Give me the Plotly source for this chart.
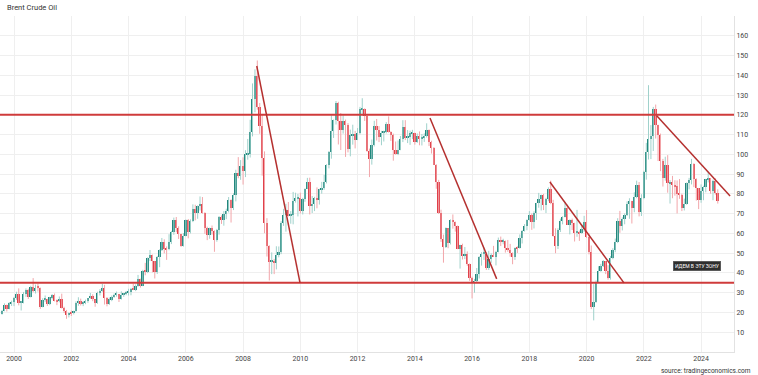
import plotly.graph_objects as go
import pandas as pd

title_text = "Brent Crude Oil"
source_text = "source: tradingeconomics.com"
note_text = "ИДЕМ В ЭТУ ЗОНУ"
first_month = "1999-08-01"

# Monthly OHLC, Aug 1999 .. Aug 2024 (one line per year)
open_ = [
    19.3, 20.9, 23.6, 21.9, 24.6,
    25.5, 27.1, 29.6, 24.9, 25.0, 29.4, 31.6, 27.9, 32.7, 30.8, 32.6, 32.4,
    23.0, 26.5, 26.8, 24.2, 27.6, 28.6, 26.0, 25.6, 26.8, 22.5, 20.5, 18.7,
    19.8, 19.5, 20.6, 25.0, 25.8, 24.5, 25.2, 25.8, 27.2, 28.4, 26.6, 24.6,
    29.9, 31.1, 32.6, 27.2, 24.2, 26.7, 27.6, 29.0, 29.2, 26.7, 29.0, 29.5,
    30.1, 30.3, 32.0, 31.6, 33.6, 37.0, 33.5, 41.2, 40.5, 47.6, 49.0, 45.9,
    40.5, 48.2, 51.8, 55.6, 52.0, 51.9, 55.6, 60.6, 66.9, 62.5, 59.5, 53.8,
    58.9, 66.7, 60.8, 66.4, 72.4, 70.2, 73.9, 75.0, 70.3, 62.5, 59.4, 62.6,
    61.0, 56.6, 61.8, 68.1, 66.7, 70.0, 71.4, 77.1, 72.7, 79.2, 90.8, 88.9,
    93.9, 91.8, 100.1, 100.3, 111.4, 127.8, 139.8, 124.1, 114.1, 98.2, 65.3, 53.5,
    45.6, 45.9, 44.8, 49.2, 50.8, 65.4, 69.3, 72.0, 69.0, 69.1, 76.4, 77.9,
    77.9, 71.2, 77.6, 82.7, 86.2, 74.0, 75.0, 78.0, 76.9, 82.3, 83.2, 85.9,
    94.8, 101.0, 111.8, 117.4, 125.9, 116.7, 112.5, 116.7, 114.9, 102.8, 109.6, 110.5,
    107.4, 111.0, 122.7, 122.9, 119.5, 101.9, 97.8, 104.9, 114.6, 112.4, 108.7, 110.9,
    111.1, 115.6, 111.4, 110.0, 102.4, 100.4, 102.2, 107.7, 114.0, 108.4, 108.8, 110.8,
    110.8, 106.4, 109.1, 107.8, 108.1, 109.4, 112.4, 106.0, 103.2, 94.7, 85.9, 70.2,
    57.3, 53.0, 62.6, 55.1, 66.8, 65.6, 63.6, 52.2, 54.2, 48.4, 49.6, 44.6,
    37.3, 34.7, 36.0, 39.6, 48.1, 49.7, 49.7, 42.5, 47.0, 49.1, 48.3, 50.5,
    56.8, 55.7, 56.0, 52.8, 51.7, 50.3, 47.9, 52.7, 52.4, 57.5, 61.4, 63.6,
    66.9, 69.1, 65.8, 70.3, 75.2, 77.6, 79.4, 74.3, 77.4, 82.7, 75.5, 58.7,
    53.8, 61.9, 66.3, 68.4, 72.8, 64.5, 66.6, 65.2, 60.4, 60.8, 60.2, 62.4,
    66.0, 58.2, 50.5, 22.7, 25.3, 35.3, 41.2, 43.3, 45.8, 40.9, 37.5, 47.6,
    51.8, 55.9, 66.1, 63.5, 67.3, 69.3, 75.1, 76.3, 73.0, 78.5, 84.4, 70.6,
    77.8, 91.2, 101.0, 107.9, 109.3, 122.8, 114.8, 110.0, 96.5, 88.0, 94.8, 85.4,
    85.9, 84.5, 83.9, 79.8, 79.5, 72.7, 74.9, 85.6, 86.9, 95.3, 87.4, 82.8,
    77.0, 81.7, 83.6, 87.5, 87.9, 81.6, 86.4, 80.7,
]
high = [
    21.3, 24.6, 24.0, 25.3, 26.0,
    27.9, 30.5, 32.2, 25.8, 30.4, 32.2, 32.0, 33.5, 37.4, 34.1, 34.6, 32.6,
    27.2, 28.6, 26.9, 27.9, 29.3, 29.6, 26.6, 28.1, 29.5, 22.9, 21.3, 20.0,
    21.0, 20.9, 25.6, 27.7, 27.0, 25.8, 26.5, 27.3, 29.9, 29.2, 26.6, 30.5,
    31.8, 34.4, 34.0, 27.8, 27.6, 28.6, 29.6, 30.6, 29.4, 30.7, 29.9, 30.9,
    32.0, 32.4, 34.4, 34.2, 39.0, 37.1, 41.6, 45.1, 47.9, 51.6, 49.3, 46.0,
    48.6, 52.0, 57.7, 57.0, 53.4, 59.6, 61.3, 68.0, 68.3, 63.6, 59.8, 60.2,
    67.1, 67.3, 67.1, 74.7, 74.5, 74.2, 78.7, 78.4, 70.7, 63.4, 62.9, 64.0,
    61.6, 62.3, 68.8, 69.1, 71.3, 72.5, 78.4, 77.2, 80.3, 92.2, 98.6, 97.1,
    98.5, 102.1, 107.8, 117.5, 135.9, 143.0, 147.5, 126.0, 120.0, 101.5, 67.7, 54.0,
    50.4, 47.1, 53.5, 53.4, 66.2, 72.4, 75.0, 75.9, 71.3, 81.0, 80.6, 80.0,
    80.6, 78.0, 82.8, 88.1, 88.2, 78.9, 78.5, 83.3, 82.6, 86.1, 89.6, 95.0,
    101.7, 119.8, 117.6, 127.0, 126.6, 120.9, 119.7, 117.6, 115.8, 112.5, 115.0, 111.9,
    113.3, 124.0, 128.4, 123.3, 119.9, 102.9, 107.5, 117.0, 117.9, 114.3, 111.9, 112.0,
    116.3, 119.2, 111.7, 110.5, 106.5, 107.0, 109.3, 117.3, 117.3, 112.3, 112.0, 112.4,
    111.0, 110.6, 111.6, 110.3, 110.6, 115.7, 112.6, 106.9, 103.7, 95.0, 87.1, 72.0,
    59.4, 63.0, 62.7, 67.1, 69.6, 66.0, 64.0, 54.3, 54.8, 53.1, 50.9, 44.8,
    38.1, 37.0, 42.5, 48.5, 50.5, 52.9, 50.5, 51.2, 49.9, 53.7, 51.2, 57.9,
    58.4, 57.3, 56.4, 56.7, 54.7, 50.4, 52.9, 53.5, 59.5, 61.7, 64.7, 67.1,
    71.3, 70.1, 71.2, 75.5, 80.5, 79.6, 80.0, 78.0, 83.3, 86.7, 77.0, 62.6,
    62.6, 67.5, 68.7, 75.6, 74.5, 67.1, 67.5, 65.4, 71.9, 61.4, 64.4, 68.9,
    71.8, 60.0, 53.9, 34.3, 36.2, 43.4, 44.6, 46.5, 46.0, 43.9, 48.6, 52.5,
    57.4, 67.7, 71.4, 68.1, 70.1, 76.2, 77.8, 76.5, 80.8, 86.7, 86.0, 79.8,
    91.7, 105.8, 135.0, 114.8, 124.0, 125.2, 115.0, 110.5, 97.7, 98.8, 99.6, 87.0,
    89.1, 86.9, 86.8, 87.5, 80.1, 77.6, 85.8, 88.1, 97.7, 95.5, 87.9, 83.0,
    84.8, 84.1, 87.6, 91.0, 88.0, 87.2, 87.9, 82.3,
]
low = [
    18.9, 20.6, 20.5, 21.6, 23.3,
    23.2, 26.4, 23.6, 21.0, 24.6, 27.9, 26.8, 27.6, 30.2, 29.6, 30.6, 21.8,
    22.6, 25.4, 23.3, 23.7, 26.6, 25.6, 23.7, 25.1, 22.0, 19.7, 16.8, 17.5,
    18.2, 19.0, 20.4, 23.4, 23.5, 23.2, 24.2, 24.9, 26.9, 25.7, 22.9, 24.4,
    28.6, 30.5, 24.0, 23.1, 23.8, 25.7, 27.4, 28.0, 25.3, 26.5, 27.9, 28.7,
    28.6, 28.7, 31.3, 30.8, 33.0, 32.6, 33.3, 38.8, 39.9, 46.0, 40.3, 37.2,
    39.5, 42.9, 51.1, 49.9, 46.6, 51.5, 54.6, 59.3, 60.6, 57.2, 53.2, 53.3,
    58.5, 57.5, 60.0, 65.7, 66.6, 67.4, 71.6, 70.0, 59.8, 56.6, 57.3, 59.4,
    50.7, 55.8, 59.4, 64.8, 63.9, 67.2, 70.6, 65.5, 71.8, 76.2, 87.9, 87.1,
    84.7, 88.5, 97.3, 98.4, 109.1, 121.3, 122.6, 110.4, 89.2, 60.1, 48.3, 36.2,
    39.4, 39.4, 41.8, 47.9, 49.5, 63.8, 60.9, 68.6, 64.9, 64.6, 75.6, 68.6,
    70.1, 69.6, 76.0, 82.5, 69.6, 70.3, 71.3, 72.7, 74.6, 80.1, 82.1, 85.3,
    92.9, 97.8, 108.3, 115.1, 105.0, 102.2, 110.5, 98.7, 101.0, 99.0, 104.9, 103.0,
    107.2, 110.1, 119.6, 116.9, 101.3, 88.5, 94.8, 104.0, 107.0, 106.2, 104.6, 106.5,
    110.6, 111.0, 106.8, 96.8, 99.8, 99.6, 102.1, 106.2, 107.2, 105.7, 104.8, 107.7,
    104.9, 105.8, 104.6, 104.5, 106.3, 108.5, 104.2, 100.4, 94.6, 82.6, 69.8, 55.7,
    45.2, 52.6, 52.5, 54.4, 62.4, 60.9, 52.0, 42.2, 46.8, 47.0, 43.6, 36.0,
    27.1, 30.0, 35.4, 37.2, 43.7, 46.6, 41.5, 41.5, 45.1, 48.1, 43.8, 50.4,
    53.6, 54.5, 50.3, 50.7, 48.2, 44.4, 46.6, 50.1, 52.3, 54.9, 60.9, 61.6,
    66.5, 61.8, 62.5, 66.8, 73.0, 71.6, 71.8, 70.3, 76.3, 74.8, 58.4, 50.0,
    52.1, 60.7, 64.6, 68.1, 64.3, 59.5, 61.7, 55.9, 58.3, 56.2, 59.8, 60.7,
    57.7, 49.4, 21.7, 16.0, 24.9, 35.0, 40.6, 43.0, 39.4, 36.6, 36.6, 46.9,
    50.5, 55.1, 60.3, 61.5, 64.6, 68.8, 67.4, 65.0, 70.7, 77.8, 68.6, 68.8,
    77.3, 87.2, 97.4, 97.6, 101.7, 108.0, 96.6, 91.5, 83.7, 86.7, 80.6, 75.1,
    77.8, 79.1, 70.1, 77.5, 71.3, 71.6, 74.5, 82.3, 84.8, 83.4, 76.6, 72.3,
    75.5, 76.8, 80.8, 85.8, 80.1, 76.8, 79.6, 75.1,
]
close = [
    20.9, 23.6, 21.9, 24.6, 25.5,
    27.1, 29.6, 24.9, 25.0, 29.4, 31.6, 27.9, 32.7, 30.8, 32.6, 32.4, 23.0,
    26.5, 26.8, 24.2, 27.6, 28.6, 26.0, 25.6, 26.8, 22.5, 20.5, 18.7, 19.8,
    19.5, 20.6, 25.0, 25.8, 24.5, 25.2, 25.8, 27.2, 28.4, 26.6, 24.6, 29.9,
    31.1, 32.6, 27.2, 24.2, 26.7, 27.6, 29.0, 29.2, 26.7, 29.0, 29.5, 30.1,
    30.3, 32.0, 31.6, 33.6, 37.0, 33.5, 41.2, 40.5, 47.6, 49.0, 45.9, 40.5,
    48.2, 51.8, 55.6, 52.0, 51.9, 55.6, 60.6, 66.9, 62.5, 59.5, 53.8, 58.9,
    66.7, 60.8, 66.4, 72.4, 70.2, 73.9, 75.0, 70.3, 62.5, 59.4, 62.6, 61.0,
    56.6, 61.8, 68.1, 66.7, 70.0, 71.4, 77.1, 72.7, 79.2, 90.8, 88.9, 93.9,
    91.8, 100.1, 100.3, 111.4, 127.8, 139.8, 124.1, 114.1, 98.2, 65.3, 53.5, 45.6,
    45.9, 44.8, 49.2, 50.8, 65.4, 69.3, 72.0, 69.0, 69.1, 76.4, 77.9, 77.9,
    71.2, 77.6, 82.7, 86.2, 74.0, 75.0, 78.0, 76.9, 82.3, 83.2, 85.9, 94.8,
    101.0, 111.8, 117.4, 125.9, 116.7, 112.5, 116.7, 114.9, 102.8, 109.6, 110.5, 107.4,
    111.0, 122.7, 122.9, 119.5, 101.9, 97.8, 104.9, 114.6, 112.4, 108.7, 110.9, 111.1,
    115.6, 111.4, 110.0, 102.4, 100.4, 102.2, 107.7, 114.0, 108.4, 108.8, 110.8, 110.8,
    106.4, 109.1, 107.8, 108.1, 109.4, 112.4, 106.0, 103.2, 94.7, 85.9, 70.2, 57.3,
    53.0, 62.6, 55.1, 66.8, 65.6, 63.6, 52.2, 54.2, 48.4, 49.6, 44.6, 37.3,
    34.7, 36.0, 39.6, 48.1, 49.7, 49.7, 42.5, 47.0, 49.1, 48.3, 50.5, 56.8,
    55.7, 56.0, 52.8, 51.7, 50.3, 47.9, 52.7, 52.4, 57.5, 61.4, 63.6, 66.9,
    69.1, 65.8, 70.3, 75.2, 77.6, 79.4, 74.3, 77.4, 82.7, 75.5, 58.7, 53.8,
    61.9, 66.3, 68.4, 72.8, 64.5, 66.6, 65.2, 60.4, 60.8, 60.2, 62.4, 66.0,
    58.2, 50.5, 22.7, 25.3, 35.3, 41.2, 43.3, 45.8, 40.9, 37.5, 47.6, 51.8,
    55.9, 66.1, 63.5, 67.3, 69.3, 75.1, 76.3, 73.0, 78.5, 84.4, 70.6, 77.8,
    91.2, 101.0, 107.9, 109.3, 122.8, 114.8, 110.0, 96.5, 88.0, 94.8, 85.4, 85.9,
    84.5, 83.9, 79.8, 79.5, 72.7, 74.9, 85.6, 86.9, 95.3, 87.4, 82.8, 77.0,
    81.7, 83.6, 87.5, 87.9, 81.6, 86.4, 80.7, 76.3,
]

# Reference levels and hand-drawn trend lines (value space)
level_values = [120, 35]
trend_start_dates = ["2008-06-24", "2014-07-13", "2018-09-20", "2022-06-14"]
trend_start_values = [144.7, 118.4, 86.0, 119.5]
trend_end_dates = ["2009-12-28", "2016-11-10", "2021-04-22", "2025-01-05"]
trend_end_values = [35.0, 37.0, 35.0, 78.9]

note_date = "2023-11-12"
note_value = 43.5

y_tick_values = [0, 10, 20, 30, 40, 50, 60, 70, 80, 90, 100, 110, 120, 130, 140, 150, 160, 170]
y_tick_labels = ["", "10", "20", "30", "40", "50", "60", "70", "80", "90", "100",
                 "110", "120", "130", "140", "150", "160", ""]
x_tick_dates = ["2000-01-01", "2002-01-01", "2004-01-01", "2006-01-01", "2008-01-01",
                "2010-01-01", "2012-01-01", "2014-01-01", "2016-01-01", "2018-01-01",
                "2020-01-01", "2022-01-01", "2024-01-01"]
x_tick_labels = ["2000", "2002", "2004", "2006", "2008", "2010", "2012", "2014",
                 "2016", "2018", "2020", "2022", "2024"]

assert len(open_) == len(high) == len(low) == len(close), (len(open_), len(high), len(low), len(close))

UP_BODY = "#22877d"
DOWN_BODY = "#e0404a"
UP_WICK = "#9fd1cb"
DOWN_WICK = "#f2a6aa"
LEVEL_COLOR = "#cf3b3b"
TREND_COLOR = "#b5302f"

dates = pd.date_range(first_month, periods=len(close), freq="MS")
is_up = [c >= o for o, c in zip(open_, close)]

fig = go.Figure()

# wicks
for flag, col in ((True, UP_WICK), (False, DOWN_WICK)):
    wx, wy = [], []
    for d, h, l, u in zip(dates, high, low, is_up):
        if u == flag:
            wx += [d, d, None]
            wy += [l, h, None]
    fig.add_trace(go.Scatter(x=wx, y=wy, mode="lines", line=dict(color=col, width=1),
                             hoverinfo="skip", showlegend=False))

# bodies
body_base = [min(o, c) for o, c in zip(open_, close)]
body_len = [max(abs(c - o), 0.5) for o, c in zip(open_, close)]
body_col = [UP_BODY if u else DOWN_BODY for u in is_up]
fig.add_trace(go.Bar(x=dates, y=body_len, base=body_base, marker=dict(color=body_col, line=dict(width=0)),
                     width=22 * 24 * 3600 * 1000, showlegend=False,
                     customdata=list(zip(open_, high, low, close)),
                     hovertemplate="O %{customdata[0]}<br>H %{customdata[1]}<br>L %{customdata[2]}<br>C %{customdata[3]}<extra></extra>"))

shapes = []
for v in level_values:
    shapes.append(dict(type="line", xref="paper", x0=0, x1=1, yref="y", y0=v, y1=v,
                       line=dict(color=LEVEL_COLOR, width=2), layer="above"))
for xs, ys, xe, ye in zip(trend_start_dates, trend_start_values, trend_end_dates, trend_end_values):
    shapes.append(dict(type="line", xref="x", yref="y", x0=xs, y0=ys, x1=xe, y1=ye,
                       line=dict(color=TREND_COLOR, width=1.5), layer="above"))

fig.update_layout(
    width=758, height=375,
    margin=dict(l=0, r=24, t=16, b=23),
    paper_bgcolor="white", plot_bgcolor="white",
    showlegend=False, barmode="overlay", bargap=0,
    font=dict(family="Roboto, Arial, sans-serif", size=7, color="#333333"),
    shapes=shapes,
    xaxis=dict(type="date", range=["1999-07-06", "2025-02-24"],
               tickvals=x_tick_dates, ticktext=x_tick_labels,
               showgrid=True, gridcolor="#efefef", gridwidth=1,
               showline=True, linecolor="#e2e2e2", ticks="", zeroline=False,
               tickfont=dict(size=7, color="#444444")),
    yaxis=dict(side="right", range=[0, 170], tickvals=y_tick_values, ticktext=y_tick_labels,
               showgrid=True, gridcolor="#efefef", gridwidth=1,
               showline=True, linecolor="#e2e2e2", ticks="", zeroline=False,
               tickfont=dict(size=7, color="#444444")),
    annotations=[
        dict(text=title_text, xref="paper", yref="paper", x=0.007, y=1.024,
             xanchor="left", yanchor="middle", showarrow=False,
             font=dict(size=7.5, color="#333333")),
        dict(text=source_text, xref="paper", yref="paper", x=1.026, y=-0.057,
             xanchor="right", yanchor="middle", showarrow=False,
             font=dict(size=6.5, color="#333333")),
        dict(text=note_text, xref="x", yref="y", x=note_date, y=note_value,
             xanchor="center", yanchor="middle", showarrow=False,
             bgcolor="#2e2e2e", bordercolor="#555555", borderwidth=0.5, borderpad=1.5,
             font=dict(size=5, color="white")),
    ],
)

fig.write_html("out.html", config={"displayModeBar": False},
               post_script="document.body.style.margin='0';document.body.style.padding='0';")
